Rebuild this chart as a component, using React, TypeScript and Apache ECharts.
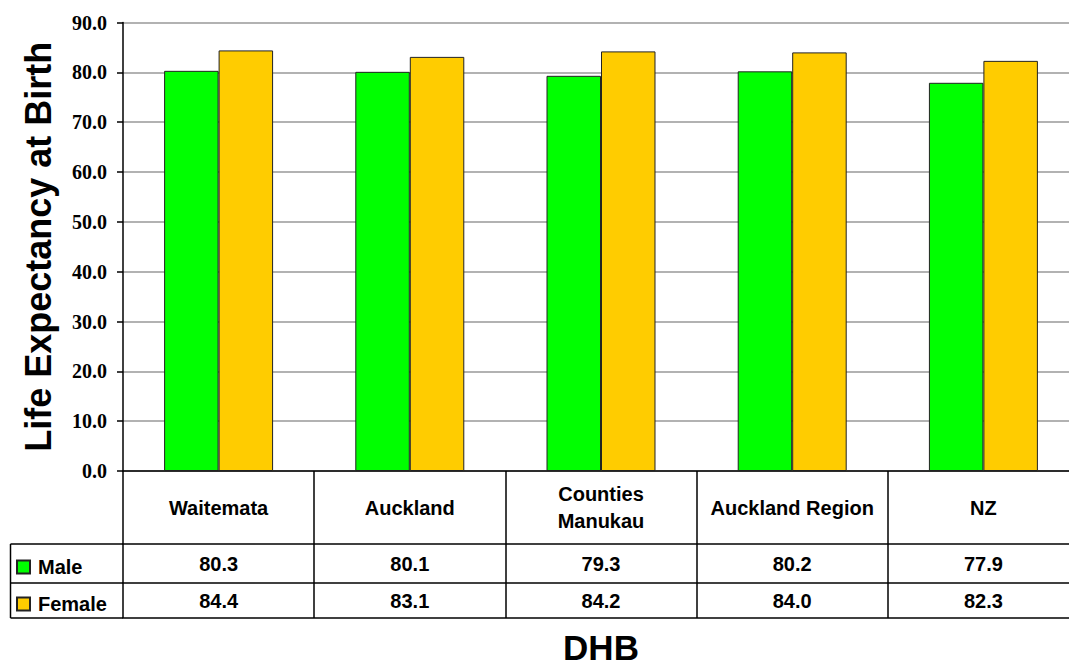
import React, { useEffect, useRef } from "react";
import * as echarts from "echarts";

const categories = ["Waitemata", "Auckland", "Counties\nManukau", "Auckland Region", "NZ"];
const maleValues = [80.3, 80.1, 79.3, 80.2, 77.9];
const femaleValues = [84.4, 83.1, 84.2, 84.0, 82.3];
const seriesNames = ["Male", "Female"];
const yMin = 0;
const yMax = 90;
const yInterval = 10;

const FONT = "'Liberation Sans', Arial, sans-serif";
const GRID_LEFT = 123;
const GRID_TOP = 22.5;
const AXIS_Y = 471;
const ROW1 = 544;
const ROW2 = 583;
const ROW3 = 618;
const TABLE_LEFT = 10.5;
const LINE_W = 1.5;

export default function App() {
  const ref = useRef<HTMLDivElement>(null);
  useEffect(() => {
    if (!ref.current) return;
    const chart = echarts.init(ref.current, undefined, { renderer: "svg" });
    const lineStyle = { color: "#000", width: LINE_W };
    const tableLine = (x1: number, y1: number, x2: number, y2: number) => ({
      type: "line",
      shape: { x1, y1, x2, y2 },
      style: { stroke: "#000", lineWidth: LINE_W },
      z: 10,
    });
    const valueAxis = (offset: number, values: number[] | null, margin: number) => ({
      type: "category",
      position: "bottom",
      offset,
      data: categories,
      axisLine: { show: true, lineStyle },
      axisTick: { show: false },
      axisLabel: values
        ? {
            show: true,
            interval: 0,
            margin,
            verticalAlign: "middle",
            formatter: (_v: string, i: number) => values[i].toFixed(1),
            color: "#000",
            fontFamily: FONT,
            fontWeight: "bold",
            fontSize: 20,
          }
        : { show: false },
      splitLine: { show: false },
    });
    chart.setOption({
      animation: false,
      backgroundColor: "#fff",
      grid: {
        left: GRID_LEFT,
        right: 1,
        top: GRID_TOP,
        bottom: 667 - AXIS_Y,
        containLabel: false,
        outerBoundsMode: "none",
      },
      legend: {
        orient: "vertical",
        left: 16,
        top: 557,
        padding: 0,
        itemGap: 17,
        itemWidth: 13,
        itemHeight: 13,
        icon: "rect",
        data: seriesNames,
        textStyle: {
          color: "#000",
          fontFamily: FONT,
          fontWeight: "bold",
          fontSize: 20,
          padding: [0, 0, 0, 3],
        },
      },
      xAxis: [
        {
          type: "category",
          position: "bottom",
          data: categories,
          axisLine: { show: true, lineStyle },
          axisTick: {
            show: true,
            interval: 0,
            inside: false,
            length: ROW3 - AXIS_Y,
            lineStyle,
          },
          axisLabel: {
            interval: 0,
            margin: (ROW1 - AXIS_Y) / 2,
            verticalAlign: "middle",
            align: "center",
            color: "#000",
            fontFamily: FONT,
            fontWeight: "bold",
            fontSize: 20,
            lineHeight: 27,
          },
          name: "DHB",
          nameLocation: "middle",
          nameGap: 158,
          nameTextStyle: {
            color: "#000",
            fontFamily: FONT,
            fontWeight: "bold",
            fontSize: 35,
            lineHeight: 36,
          },
        },
        valueAxis(ROW1 - AXIS_Y, maleValues, (ROW2 - ROW1) / 2),
        valueAxis(ROW2 - AXIS_Y, femaleValues, (ROW3 - ROW2) / 2),
        valueAxis(ROW3 - AXIS_Y, null, 0),
      ],
      yAxis: {
        type: "value",
        min: yMin,
        max: yMax,
        interval: yInterval,
        axisLine: { show: true, lineStyle },
        axisTick: { show: true, length: 6, lineStyle },
        axisLabel: {
          margin: 16,
          formatter: (v: number) => v.toFixed(1),
          color: "#000",
          fontFamily: "'Liberation Serif', 'Times New Roman', serif",
          fontWeight: "bold",
          fontSize: 20,
        },
        splitLine: { show: true, lineStyle: { color: "#999", width: 1.5 } },
        name: "Life Expectancy at Birth",
        nameLocation: "middle",
        nameGap: 67,
        nameTextStyle: {
          color: "#000",
          fontFamily: FONT,
          fontWeight: "bold",
          fontSize: 36,
        },
      },
      series: [
        {
          name: seriesNames[0],
          type: "bar",
          data: maleValues,
          barGap: "0%",
          barCategoryGap: "43%",
          itemStyle: { color: "#00FF00", borderColor: "#222", borderWidth: 1 },
        },
        {
          name: seriesNames[1],
          type: "bar",
          data: femaleValues,
          barGap: "0%",
          barCategoryGap: "43%",
          itemStyle: { color: "#FFCC00", borderColor: "#222", borderWidth: 1 },
        },
      ],
      graphic: [
        tableLine(TABLE_LEFT, ROW1, GRID_LEFT, ROW1),
        tableLine(TABLE_LEFT, ROW2, GRID_LEFT, ROW2),
        tableLine(TABLE_LEFT, ROW3, GRID_LEFT, ROW3),
        tableLine(TABLE_LEFT, ROW1, TABLE_LEFT, ROW3),
      ],
    });
    return () => chart.dispose();
  }, []);
  return (
    <div
      style={{
        position: "fixed",
        left: 0,
        top: 0,
        width: 1069,
        height: 667,
        overflow: "hidden",
        background: "#fff",
      }}
    >
      <div ref={ref} style={{ width: 1080, height: 667 }} />
    </div>
  );
}
